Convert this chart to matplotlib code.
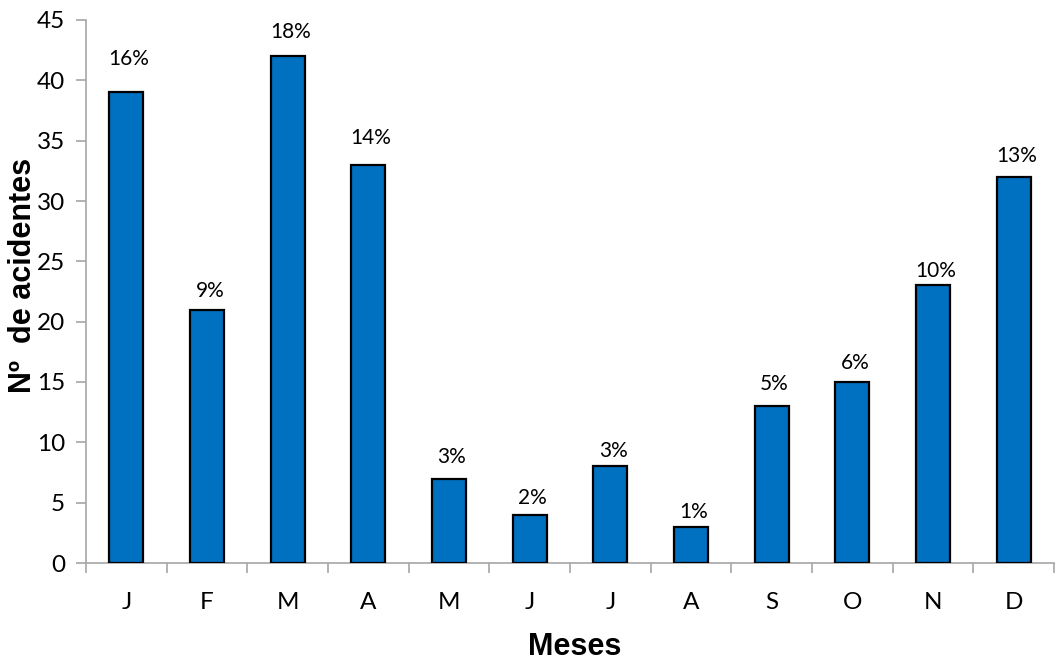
import matplotlib
matplotlib.use("Agg")
import matplotlib.pyplot as plt
from matplotlib.ticker import FixedLocator, MultipleLocator

months = ["J", "F", "M", "A", "M", "J", "J", "A", "S", "O", "N", "D"]
accidents = [39, 21, 42, 33, 7, 4, 8, 3, 13, 15, 23, 32]
pct_labels = ["16%", "9%", "18%", "14%", "3%", "2%", "3%", "1%", "5%", "6%", "10%", "13%"]
# vertical offset of each percentage label above its bar (pixels)
label_offsets_px = [33, 19, 24, 27, 22, 17, 15, 15, 22, 19, 14, 21]

DPI = 100
fig = plt.figure(figsize=(10.56, 6.62), dpi=DPI)
ax = fig.add_axes([86 / 1056, 1 - 563 / 662, (1054 - 86) / 1056, (563 - 20) / 662])

x = list(range(len(months)))
bars = ax.bar(x, accidents, width=0.42, color="#0070C0", edgecolor="black", linewidth=1.6, zorder=3)

ax.set_xlim(-0.5, len(months) - 0.5)
ax.set_ylim(0, 45)
ax.yaxis.set_major_locator(MultipleLocator(5))

gray = "#A6A6A6"
for s in ["top", "right"]:
    ax.spines[s].set_visible(False)
for s in ["left", "bottom"]:
    ax.spines[s].set_color(gray)
    ax.spines[s].set_linewidth(1.2)

tick_font = "Lato"
ax.set_xticks(x)
ax.set_xticklabels(months, fontsize=17.5, family=tick_font)
ax.xaxis.set_minor_locator(FixedLocator([i - 0.5 for i in range(len(months) + 1)]))
ax.tick_params(axis="x", which="major", length=0, pad=21)
ax.tick_params(axis="x", which="minor", length=7, width=1.2, color=gray, direction="out")
ax.tick_params(axis="y", which="major", length=7, width=1.2, color=gray, pad=8, labelsize=17.5)
for lab in ax.get_yticklabels():
    lab.set_family(tick_font)

for xi, v, txt, off in zip(x, accidents, pct_labels, label_offsets_px):
    ax.annotate(txt, (xi, v), xytext=(2, off * 72 / DPI), textcoords="offset points",
                ha="center", va="center", fontsize=15, family=tick_font, color="black")

ax.set_ylabel("Nº  de acidentes", fontsize=22, fontweight="bold", family="Liberation Sans",
              va="center")
ax.yaxis.set_label_coords(-(86 - 23) / (1054 - 86), (563 - 275) / (563 - 20))
ax.set_xlabel("Meses", fontsize=22, fontweight="bold", family="Liberation Sans", va="center")
ax.xaxis.set_label_coords((575 - 86) / (1054 - 86), -(647 - 563) / (563 - 20))

fig.savefig("out.png", dpi=DPI)
